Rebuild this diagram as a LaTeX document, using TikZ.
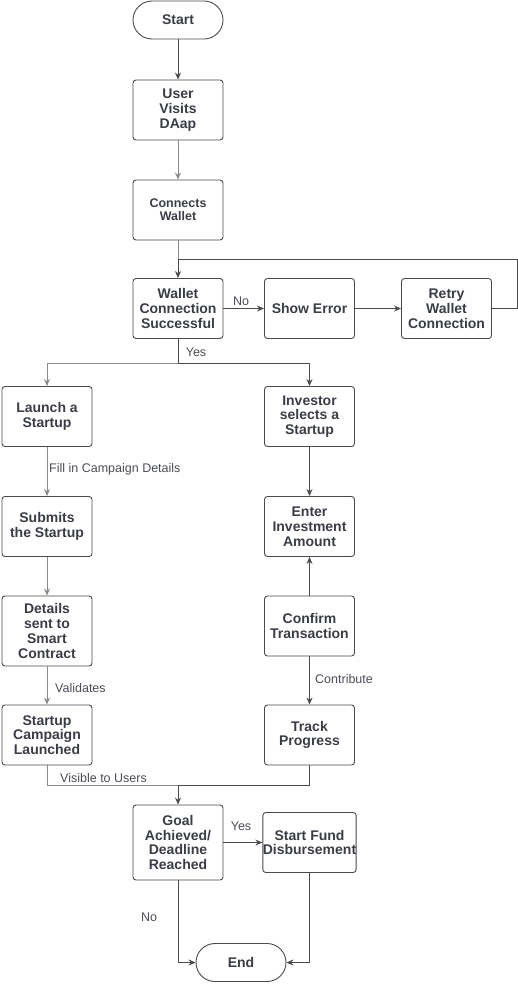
\documentclass[tikz,border=0pt]{standalone}
\usepackage{fontspec}
\setmainfont{Liberation Sans}
\usetikzlibrary{arrows.meta}
\definecolor{boxc}{HTML}{4A4A4A}
\definecolor{txtc}{HTML}{3A3D45}
\definecolor{darkl}{HTML}{4A4A4A}
\definecolor{lightl}{HTML}{8A8A8A}
\definecolor{lblc}{HTML}{4A4D55}
\tikzset{
  box/.style={draw=boxc, line width=0.9pt, rounded corners=3pt, minimum width=90pt, minimum height=60pt, align=center, inner sep=0pt, text=txtc, font=\fontsize{14}{14.8}\selectfont\bfseries},
  stadium/.style={draw=boxc, line width=0.9pt, rounded corners=19pt, minimum width=90pt, minimum height=38pt, align=center, inner sep=0pt, text=txtc, font=\fontsize{14}{14.8}\selectfont\bfseries},
  arr/.style={draw=darkl, line width=0.9pt, -{Stealth[length=7pt,width=6pt]}},
  larr/.style={draw=lightl, line width=0.9pt, -{Stealth[length=7pt,width=6pt]}},
  ln/.style={draw=darkl, line width=0.9pt},
  lln/.style={draw=lightl, line width=0.9pt},
  lbl/.style={text=lblc, font=\fontsize{12.5}{14}\selectfont, inner sep=0pt}
}
\begin{document}
\begin{tikzpicture}[x=1pt,y=-1pt]
\useasboundingbox (0,0) rectangle (518,985);
% nodes
\node[stadium] (start) at (178,20) {Start};
\node[box] (visit) at (178,110) {User\\Visits\\DAap};
\node[box, font=\fontsize{12.5}{13}\selectfont\bfseries] (conn) at (178,210) {Connects\\Wallet};
\node[box] (wallet) at (178,308.5) {Wallet\\Connection\\Successful};
\node[box] (err) at (309.5,308.5) {Show Error};
\node[box] (retry) at (446.5,308.5) {Retry\\Wallet\\Connection};
\node[box] (launch) at (47,416.5) {Launch a\\Startup};
\node[box] (invest) at (309.5,416.5) {Investor\\selects a\\Startup};
\node[box] (submit) at (47,526.5) {Submits\\the Startup};
\node[box] (amount) at (309.5,526.5) {Enter\\Investment\\Amount};
\node[box, minimum height=70pt] (details) at (47,631) {Details\\sent to\\Smart\\Contract};
\node[box] (confirm) at (309.5,626) {Confirm\\Transaction};
\node[box] (campaign) at (47,735) {Startup\\Campaign\\Launched};
\node[box] (track) at (309.5,735) {Track\\Progress};
\node[box, minimum height=75pt] (goal) at (178,842.5) {Goal\\Achieved/\\Deadline\\Reached};
\node[box] (fund) at (309.5,842.5) {Start Fund\\Disbursement};
\node[stadium] (end) at (241,962.5) {End};
% helper coordinates
\coordinate (looptop) at (178,259);
\coordinate (loopr) at (517,308.5);
\coordinate (ysplit) at (178,363);
\coordinate (vjoin) at (178,785);
% connectors
\draw[arr] (start) -- (visit);
\draw[larr] (visit) -- (conn);
\draw[lln] (conn.south) -- (looptop);
\draw[arr] (wallet) -- (err);
\draw[arr] (err) -- (retry);
\draw[arr] (retry.east) -- (loopr) |- (looptop) -- (wallet.north);
\draw[ln] (wallet.south) -- (ysplit);
\draw[larr] (ysplit) -| (launch.north);
\draw[arr] (ysplit) -| (invest.north);
\draw[larr] (launch) -- (submit);
\draw[larr] (submit) -- (details);
\draw[larr] (details) -- (campaign);
\draw[arr] (invest) -- (amount);
\draw[arr] (confirm) -- (amount);
\draw[arr] (confirm) -- (track);
\draw[lln] (campaign.south) |- (vjoin);
\draw[ln] (track.south) |- (vjoin);
\draw[arr] (vjoin) -- (goal.north);
\draw[arr] (goal) -- (fund);
\draw[arr] (goal.south) |- (end.west);
\draw[arr] (fund.south) |- (end.east);
% labels
\node[lbl] (lno) at (241,301) {No};
\node[lbl] (lyes) at (196,352) {Yes};
\node[lbl, anchor=west] (lfill) at (49,469) {Fill in Campaign Details};
\node[lbl, anchor=west] (lval) at (55,688) {Validates};
\node[lbl, anchor=west] (lcon) at (315,679) {Contribute};
\node[lbl, anchor=west] (lvis) at (60,778) {Visible to Users};
\node[lbl] (lyes2) at (241,826) {Yes};
\node[lbl] (lno2) at (149,917) {No};
\end{tikzpicture}
\end{document}
